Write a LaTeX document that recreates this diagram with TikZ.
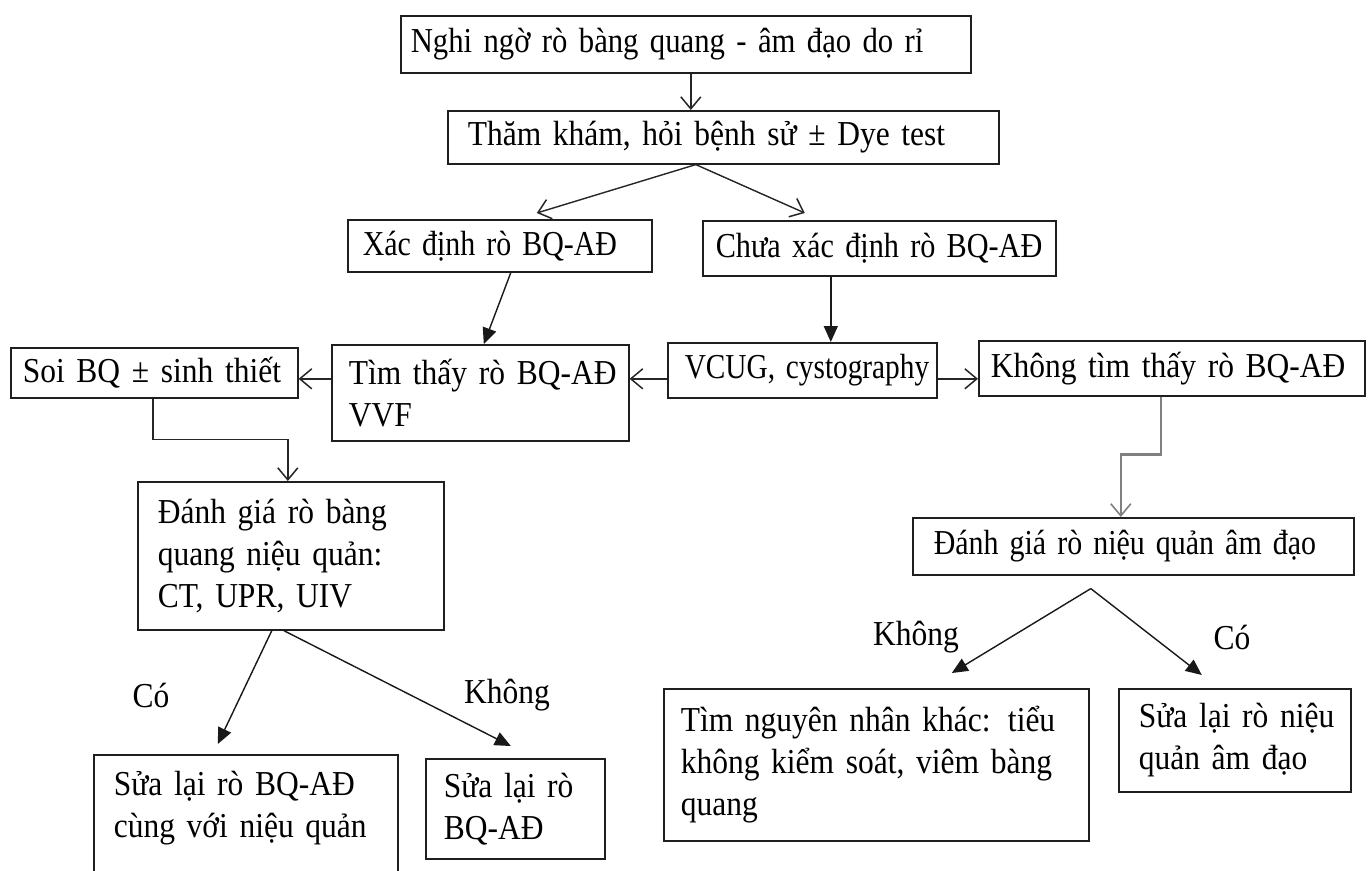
\documentclass[tikz,border=0pt]{standalone}
\usepackage{fontspec}
\usepackage{graphicx}
\setmainfont[FakeStretch=0.9]{Liberation Serif}
\usetikzlibrary{arrows.meta}
\newcommand{\fsz}{\fontsize{35pt}{42pt}\selectfont\spaceskip=6.8pt plus 2pt minus 1pt\relax}
\newcommand{\nx}[2]{\scalebox{#1}[1]{#2}}
\begin{document}
\begin{tikzpicture}[x=1pt,y=-1pt,
  bx/.style={draw=black!88, line width=1.6pt, anchor=north west, inner ysep=0pt, align=left, font=\fsz},
  lbl/.style={font=\fsz, inner sep=0pt},
  oa/.style={draw=black!85, line width=1.4pt, -{Straight Barb[length=12pt,width=20pt,line width=1.5pt]}},
  fa/.style={draw=black!90, line width=1.4pt, -{Triangle[length=16pt,width=14pt]}},
  ga/.style={draw=black!50, line width=2.6pt, -{Straight Barb[length=12pt,width=20pt,line width=1.6pt]}}
]
\useasboundingbox (0,0) rectangle (1370,870);
\fill[white] (0,0) rectangle (1370,870);

\node[bx, inner xsep=10pt, minimum width=570pt, minimum height=57pt, text width=550pt] (n1) at (400,15) {\nx{0.975}{Nghi ngờ rò bàng quang - âm đạo do rỉ}};
\node[bx, inner xsep=20pt, minimum width=551pt, minimum height=53pt, text width=511pt] (n2) at (447,110) {\mbox{Thăm khám, hỏi bệnh sử ± Dye test}};
\node[bx, inner xsep=15pt, minimum width=304pt, minimum height=52pt, text width=274pt] (n3) at (347,219) {\nx{0.95}{Xác định rò BQ-AĐ}};
\node[bx, inner xsep=13pt, minimum width=353pt, minimum height=55pt, text width=327pt] (n4) at (702,220) {\nx{0.96}{Chưa xác định rò BQ-AĐ}};
\node[bx, inner xsep=12pt, minimum width=287pt, minimum height=50pt, text width=263pt] (n5) at (10,347) {\mbox{Soi BQ ± sinh thiết}};
\node[bx, inner xsep=17pt, minimum width=297pt, minimum height=96pt, text width=263pt] (n6) at (331,344) {\mbox{Tìm thấy rò BQ-AĐ}\\\mbox{VVF}};
\node[bx, inner xsep=17pt, minimum width=269pt, minimum height=55pt, text width=235pt] (n7) at (667,342) {\nx{0.93}{VCUG, cystography}};
\node[bx, inner xsep=12pt, minimum width=386pt, minimum height=55pt, text width=362pt] (n8) at (978,340) {\mbox{Không tìm thấy rò BQ-AĐ}};
\node[bx, inner xsep=20pt, minimum width=306pt, minimum height=148pt, text width=266pt] (n9) at (137,481) {\mbox{Đánh giá rò bàng}\\\mbox{quang niệu quản:}\\\mbox{CT, UPR, UIV}};
\node[bx, inner xsep=21pt, minimum width=441pt, minimum height=57pt, text width=399pt] (n10) at (912,517) {\nx{0.95}{Đánh giá rò niệu quản âm đạo}};
\node[bx, inner xsep=17pt, minimum width=425pt, minimum height=152pt, text width=391pt] (n11) at (663,688) {\mbox{Tìm nguyên nhân khác: tiểu}\\\mbox{không kiểm soát, viêm bàng}\\\mbox{quang}};
\node[bx, inner xsep=20pt, minimum width=232pt, minimum height=103pt, text width=192pt] (n12) at (1118,688) {\mbox{Sửa lại rò niệu}\\\mbox{quản âm đạo}};
\node[bx, inner xsep=20pt, minimum width=304pt, minimum height=142pt, text width=264pt] (n13) at (93,754) {\mbox{Sửa lại rò BQ-AĐ}\\\mbox{cùng với niệu quản}\\\mbox{}};
\node[bx, inner xsep=18pt, minimum width=179pt, minimum height=100pt, text width=143pt] (n14) at (425,758) {\mbox{Sửa lại rò}\\\mbox{BQ-AĐ}};

\node[lbl] (l1) at (151,695) {Có};
\node[lbl] (l2) at (507,695) {Không};
\node[lbl] (l3) at (916,637) {Không};
\node[lbl] (l4) at (1232,637) {Có};

\draw[oa] ([xshift=5pt]n1.south) -- ([xshift=-32.5pt]n2.north);
\draw[oa] ([xshift=-27.5pt]n2.south) -- ([xshift=37pt,yshift=6pt]n3.north);
\draw[oa] ([xshift=-27.5pt]n2.south) -- ([xshift=-74.5pt,yshift=7pt]n4.north);
\draw[fa] ([xshift=11pt]n3.south) -- ([xshift=3.5pt]n6.north);
\draw[fa] ([xshift=-48.5pt]n4.south) -- ([xshift=28.5pt]n7.north);
\draw[oa] ([yshift=-8.5pt]n7.west) -- ([yshift=14pt]n6.east);
\draw[oa] ([yshift=14pt]n6.west) -- ([yshift=-6pt]n5.east);
\draw[oa] ([yshift=-8.5pt]n7.east) -- ([yshift=-10.5pt]n8.west);
\draw[oa] ([xshift=-1.5pt]n5.south) -- ++(0,41) -| ([xshift=-3pt]n9.north);
\draw[ga] ([xshift=-11pt]n8.south) -- ++(0,58) -| ([xshift=-12.5pt]n10.north);
\draw[fa] ([xshift=-19pt]n9.south) -- ([xshift=-28pt,yshift=10pt]n13.north);
\draw[fa] ([xshift=-7pt]n9.south) -- ([xshift=-4.5pt,yshift=12pt]n14.north);
\draw[fa] ([xshift=-42.5pt,yshift=-13pt]n10.south) -- ([xshift=75.5pt,yshift=15pt]n11.north);
\draw[fa] ([xshift=-42.5pt,yshift=-13pt]n10.south) -- ([xshift=-33pt,yshift=13pt]n12.north);
\end{tikzpicture}
\end{document}
